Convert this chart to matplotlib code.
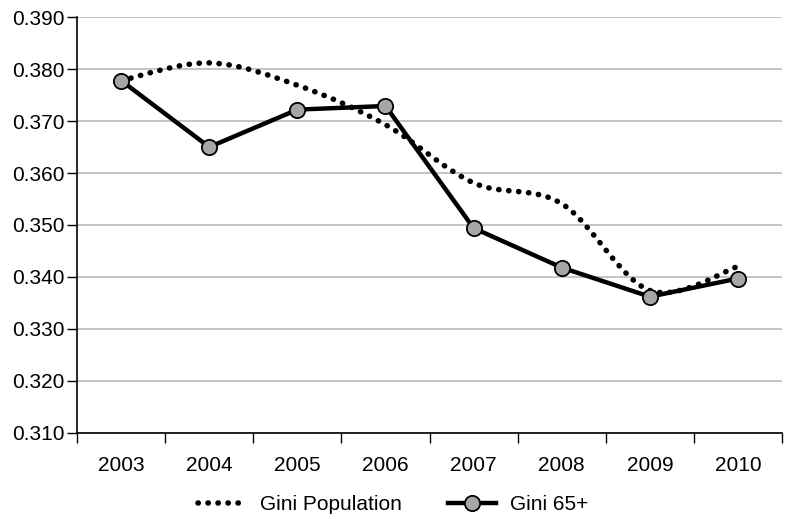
import numpy as np
import matplotlib
matplotlib.use("Agg")
import matplotlib.pyplot as plt
from matplotlib.path import Path
from matplotlib.patches import PathPatch
from matplotlib.lines import Line2D

plt.rcParams['font.family'] = ['Liberation Sans', 'DejaVu Sans']

# data
years = ['2003', '2004', '2005', '2006', '2007', '2008', '2009', '2010']
gini_pop = [0.3778, 0.3812, 0.3769, 0.3693, 0.3581, 0.3541, 0.3374, 0.3420]
gini_65 = [0.3778, 0.3650, 0.3722, 0.3729, 0.3494, 0.3418, 0.3362, 0.3397]

x = np.arange(len(years))

fig = plt.figure(figsize=(7.86, 5.19), dpi=100)
ax = fig.add_axes([0.098, 0.166, 0.897, 0.801])

# smoothed dotted line (Excel style bezier through the points)
def smooth_path(xs, ys):
    pts = np.column_stack([xs, ys])
    verts = [pts[0]]
    codes = [Path.MOVETO]
    n = len(pts)
    for i in range(n - 1):
        p0 = pts[max(i - 1, 0)]
        p1 = pts[i]
        p2 = pts[i + 1]
        p3 = pts[min(i + 2, n - 1)]
        c1 = p1 + (p2 - p0) / 6
        c2 = p2 - (p3 - p1) / 6
        verts += [c1, c2, p2]
        codes += [Path.CURVE4] * 3
    return Path(verts, codes)

dot_style = (0, (0.05, 1.75))
patch = PathPatch(smooth_path(x, gini_pop), fill=False, edgecolor='black',
                  linewidth=4.0, linestyle=dot_style, capstyle='round', zorder=3)
ax.add_patch(patch)

ax.plot(x, gini_65, color='black', linewidth=3.2, marker='o', markersize=11,
        markerfacecolor='#a6a6a6', markeredgecolor='black', markeredgewidth=1.3, zorder=4)

ax.set_xlim(-0.5, len(years) - 0.5)
ax.set_ylim(0.310, 0.390)
ax.set_yticks(np.arange(0.310, 0.3901, 0.010))
ax.yaxis.set_major_formatter(matplotlib.ticker.FormatStrFormatter('%.3f'))
ax.set_xticks(x)
ax.set_xticklabels(years)
ax.set_xticks(np.arange(-0.5, len(years)), minor=True)
ax.tick_params(axis='x', which='major', length=0, pad=17, labelsize=15)
ax.tick_params(axis='x', which='minor', length=7, width=1, direction='out')
ax.tick_params(axis='y', length=7, width=1, pad=2, labelsize=15)

ax.grid(axis='y', color='#bfbfbf', linewidth=1.3)
ax.set_axisbelow(True)
for s in ['top', 'right']:
    ax.spines[s].set_visible(False)
for s in ['left', 'bottom']:
    ax.spines[s].set_linewidth(1.2)
    ax.spines[s].set_zorder(5)

handles = [
    Line2D([], [], color='black', linewidth=4.0, linestyle=dot_style,
           dash_capstyle='round'),
    Line2D([], [], color='black', linewidth=3.2, marker='o', markersize=11,
           markerfacecolor='#a6a6a6', markeredgecolor='black', markeredgewidth=1.3),
]
fig.legend(handles, ['Gini Population', 'Gini 65+'], loc='center',
           bbox_to_anchor=(0.5, 0.027), ncol=2, frameon=False, fontsize=15,
           handlelength=2.3, columnspacing=2.2, handletextpad=0.7)

fig.savefig('out.png', dpi=100)
